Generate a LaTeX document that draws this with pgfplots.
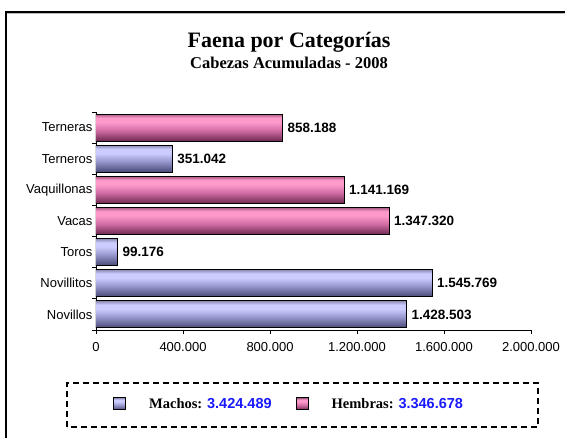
\documentclass[border=0pt]{standalone}
\usepackage{pgfplots}
\pgfplotsset{compat=1.18}
\usepackage{fontspec}
\setmainfont{Liberation Serif}
\newfontfamily\arial{Liberation Sans}
\definecolor{mbot}{RGB}{72,72,118}
\definecolor{mmid}{RGB}{150,150,205}
\definecolor{mlight}{RGB}{204,204,255}
\definecolor{mtop}{RGB}{140,140,180}
\definecolor{hbot}{RGB}{110,40,80}
\definecolor{hmid}{RGB}{210,110,165}
\definecolor{hlight}{RGB}{255,153,204}
\definecolor{htop}{RGB}{165,90,130}
\definecolor{lblue}{RGB}{26,26,255}
\pgfdeclareverticalshading{machos}{100bp}{color(0bp)=(mbot); color(25bp)=(mbot); color(45bp)=(mmid); color(60bp)=(mlight); color(68bp)=(mlight); color(75bp)=(mtop); color(100bp)=(mtop)}
\pgfdeclareverticalshading{hembras}{100bp}{color(0bp)=(hbot); color(25bp)=(hbot); color(45bp)=(hmid); color(60bp)=(hlight); color(68bp)=(hlight); color(75bp)=(htop); color(100bp)=(htop)}
\pgfplotsset{
  sqlegend/.style={legend image code/.code={\draw[##1,line width=1pt] (0pt,-6pt) rectangle (12pt,6pt);}},
  basebar/.style={xbar, bar width=27pt, bar shift=0pt, draw=black, line width=1pt,
    nodes near coords, point meta=explicit symbolic, sqlegend},
  machbar/.style={basebar, shade, shading=machos},
  hembbar/.style={basebar, shade, shading=hembras},
}
\begin{document}
\begin{tikzpicture}
\useasboundingbox (0,0) rectangle (565pt,438pt);
\fill[white] (0,0) rectangle (565pt,438pt);
\draw[gray!55, line width=1pt] (7pt,424.6pt) -- (565pt,424.6pt);
\draw[black, line width=1.6pt] (6pt,0pt) -- (6pt,426pt) -- (565pt,426pt);
\node[anchor=base, font=\bfseries\fontsize{22}{26}\selectfont] at (289pt,390pt) {Faena por Categorías};
\node[anchor=base, font=\bfseries\fontsize{16.5}{19}\selectfont] at (289pt,369pt) {Cabezas Acumuladas - 2008};
\begin{axis}[
  at={(96pt,108pt)}, anchor=south west,
  scale only axis, width=435pt, height=218pt,
  xmin=0, xmax=2000000, ymin=-0.5, ymax=6.5,
  enlargelimits=false,
  axis x line*=bottom, axis y line*=left,
  axis line style={-, black, line width=0.8pt},
  tick align=outside, major tick length=4pt,
  tick style={black, line width=0.8pt},
  xtick={0,400000,800000,1200000,1600000,2000000},
  xticklabels={0,400.000,800.000,1.200.000,1.600.000,2.000.000},
  scaled x ticks=false,
  xticklabel style={yshift=-5pt},
  ytick={-0.5,0.5,1.5,2.5,3.5,4.5,5.5,6.5},
  yticklabels={,,,,,,,},
  extra y ticks={0,1,2,3,4,5,6},
  extra y tick labels={Novillos,Novillitos,Toros,Vacas,Vaquillonas,Terneros,Terneras},
  extra y tick style={major tick length=0pt},
  tick label style={font=\arial\fontsize{13}{15}\selectfont},
  nodes near coords align={horizontal},
  every node near coord/.append style={font=\arial\bfseries\fontsize{13.5}{16}\selectfont, black, anchor=west, inner sep=4.5pt},
  legend columns=2,
  legend style={at={(0.039,-0.3394)}, anchor=west, draw=none, fill=none, inner sep=0pt,
    font=\bfseries\fontsize{14.5}{17}\selectfont,
    nodes={inner sep=0pt},
    /tikz/every odd column/.append style={column sep=23pt},
    /tikz/every even column/.append style={column sep=24pt}},
]
% Machos
\addplot[machbar] table[x=v, y=p, meta=lab] {
v p lab
1428503 0 1.428.503
};
\addlegendentry{Machos: {\arial\color{lblue}3.424.489}}
% Hembras
\addplot[hembbar] table[x=v, y=p, meta=lab] {
v p lab
1347320 3 1.347.320
};
\addlegendentry{Hembras: {\arial\color{lblue}3.346.678}}
\addplot[machbar, forget plot] table[x=v, y=p, meta=lab] {
v p lab
1545769 1 1.545.769
};
\addplot[machbar, forget plot] table[x=v, y=p, meta=lab] {
v p lab
99176 2 99.176
};
\addplot[machbar, forget plot] table[x=v, y=p, meta=lab] {
v p lab
351042 5 351.042
};
\addplot[hembbar, forget plot] table[x=v, y=p, meta=lab] {
v p lab
1141169 4 1.141.169
};
\addplot[hembbar, forget plot] table[x=v, y=p, meta=lab] {
v p lab
858188 6 858.188
};
\end{axis}
\draw[black, line width=1.3pt, dash pattern=on 6pt off 4pt] (67pt,11pt) rectangle (538pt,55pt);
\end{tikzpicture}
\end{document}
